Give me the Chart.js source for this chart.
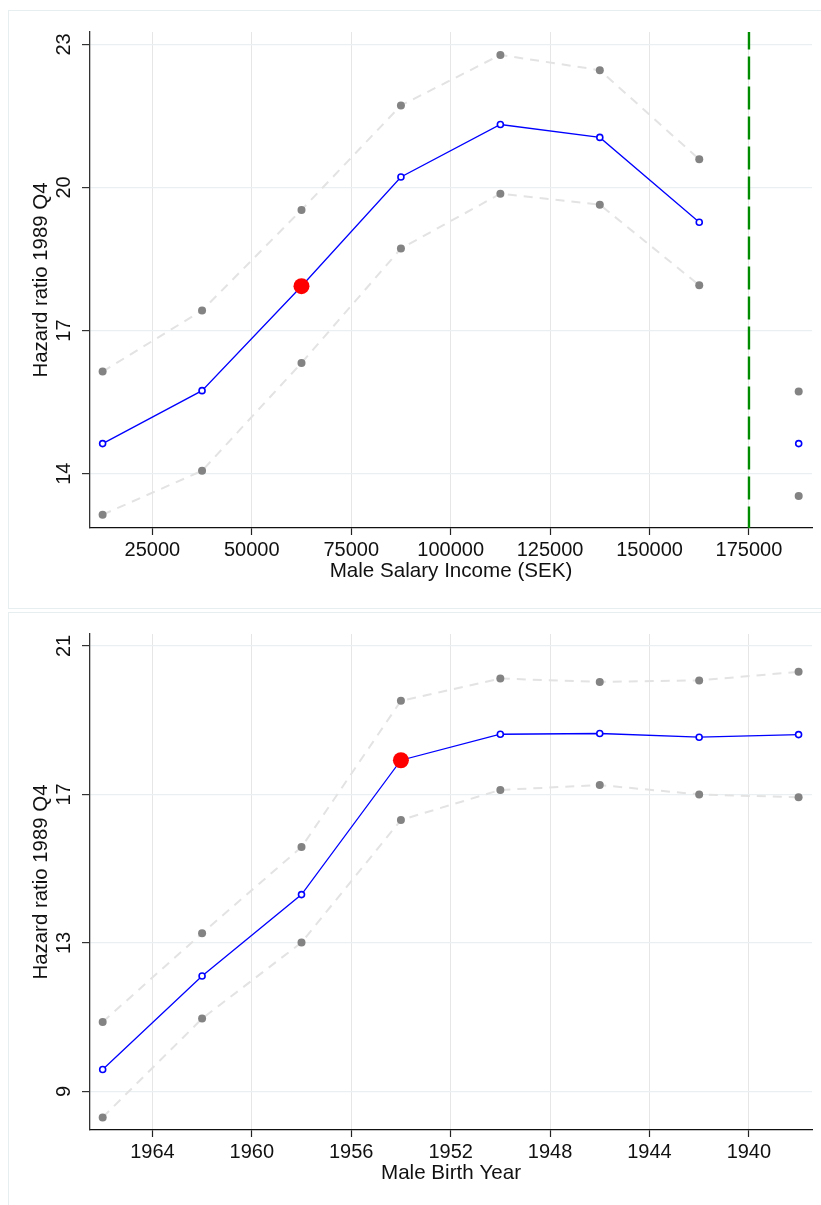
<!DOCTYPE html>
<html>
<head>
<meta charset="utf-8">
<script src="https://cdn.jsdelivr.net/npm/chart.js@4.4.1/dist/chart.umd.min.js"></script>
<style>
  html, body { margin: 0; padding: 0; background: #fff; }
  .panel { position: absolute; left: 8px; width: 813px; height: 597px; border: 1px solid #e6eef0; }
  #p1 { top: 10px; }
  #p2 { top: 612px; }
  canvas { display: block; }
</style>
</head>
<body>
<div class="panel" id="p1"><canvas id="incomeChart" width="813" height="597"></canvas></div>
<div class="panel" id="p2"><canvas id="birthChart" width="813" height="597"></canvas></div>
<script>
// Panel 1: income bins
const incomeBins = [12500, 37500, 62500, 87500, 112500, 137500, 162500];
const incomeHR = [14.63, 15.74, 17.93, 20.22, 21.32, 21.05, 19.27];
const incomeUpper = [16.14, 17.42, 19.53, 21.72, 22.78, 22.46, 20.59];
const incomeLower = [13.14, 14.06, 16.32, 18.72, 19.87, 19.64, 17.95];
const topBinX = [187500];
const topBinHR = [14.63];
const topBinUpper = [15.72];
const topBinLower = [13.53];
const incomeRef = 62500;
const incomeCutoff = 175000;
const incomeTicks = [25000, 50000, 75000, 100000, 125000, 150000, 175000];
const incomeRange = [9330, 190845];
const incomeHRTicks = [14, 17, 20, 23];
const incomeHRRange = [12.86, 23.26];

// Panel 2: birth cohorts
const birthYears = [1966, 1962, 1958, 1954, 1950, 1946, 1942, 1938];
const birthHR = [9.59, 12.11, 14.30, 17.92, 18.62, 18.64, 18.54, 18.61];
const birthUpper = [10.87, 13.26, 15.58, 19.52, 20.12, 20.03, 20.07, 20.30];
const birthLower = [8.30, 10.96, 13.01, 16.31, 17.12, 17.25, 17.00, 16.92];
const birthRef = 1954;
const yearTicks = [1964, 1960, 1956, 1952, 1948, 1944, 1940];
const yearRange = [1937.46, 1966.51];
const birthHRTicks = [9, 13, 17, 21];
const birthHRRange = [7.96, 21.32];

Chart.defaults.font.family = "'Liberation Sans', Arial, Helvetica, sans-serif";
Chart.defaults.color = "#111";

const pts = (xs, ys) => xs.map((x, i) => ({ x: x, y: ys[i] }));

function ciSet(data) {
  return {
    type: "line", data: data, borderColor: "#e3e3e3", borderWidth: 2, borderDash: [9, 7],
    pointRadius: 4, pointBackgroundColor: "#838383", pointBorderWidth: 0, order: 3
  };
}
function hrSet(data, line) {
  return {
    type: "line", data: data, showLine: line, borderColor: "#0000ff", borderWidth: 1.3,
    pointRadius: 3, pointBackgroundColor: "#ffffff", pointBorderColor: "#0000ff",
    pointBorderWidth: 1.6, order: 2
  };
}

function drawPanel(id, o) {
  const datasets = [
    ciSet(pts(o.x, o.upper)),
    ciSet(pts(o.x, o.lower)),
    hrSet(pts(o.x, o.hr), true),
    {
      type: "line", data: [{ x: o.ref, y: o.hr[o.x.indexOf(o.ref)] }], showLine: false,
      pointRadius: 8, pointBackgroundColor: "#ff0000", pointBorderWidth: 0, order: 0
    }
  ];
  (o.extra || []).forEach(d => datasets.push(d));

  new Chart(document.getElementById(id), {
    type: "line",
    data: { datasets: datasets },
    options: {
      responsive: false,
      animation: false,
      devicePixelRatio: 1,
      layout: { padding: { top: 21, right: 10, left: 0, bottom: 0 } },
      plugins: { legend: { display: false }, tooltip: { enabled: false } },
      scales: {
        x: {
          type: "linear", min: o.xRange[0], max: o.xRange[1], reverse: !!o.reverse,
          afterBuildTicks: s => { s.ticks = o.xTicks.map(v => ({ value: v })); },
          afterFit: s => { s.height = 80; },
          grid: { color: "#e6e6e6", lineWidth: 1, tickLength: 7, tickColor: "#222", tickWidth: 1.2 },
          border: { color: "#111", width: 1.3 },
          ticks: { color: "#111", font: { size: 20 }, padding: 3, maxRotation: 0, autoSkip: false, callback: v => String(v) },
          title: { display: true, text: o.xTitle, color: "#111", font: { size: 20.6, lineHeight: 1.2 }, padding: { top: 0, bottom: 24 } }
        },
        y: {
          type: "linear", min: o.yRange[0], max: o.yRange[1],
          afterBuildTicks: s => { s.ticks = o.yTicks.map(v => ({ value: v })); },
          afterFit: s => { s.width = 81; },
          grid: { color: "#eaf0f2", lineWidth: 1.2, tickLength: 8, tickColor: "#333", tickWidth: 1.2 },
          border: { color: "#333", width: 1.3 },
          ticks: { color: "#111", font: { size: 20 }, padding: 6, minRotation: 90, maxRotation: 90, crossAlign: "center", autoSkip: false, callback: v => String(v) },
          title: { display: true, text: "Hazard ratio 1989 Q4", color: "#111", font: { size: 20.4, lineHeight: 1.2 }, padding: { top: 20.5, bottom: 0 } }
        }
      }
    }
  });
}

drawPanel("incomeChart", {
  x: incomeBins, hr: incomeHR, upper: incomeUpper, lower: incomeLower, ref: incomeRef,
  xTicks: incomeTicks, xRange: incomeRange, yTicks: incomeHRTicks, yRange: incomeHRRange,
  xTitle: "Male Salary Income (SEK)",
  extra: [
    { ...ciSet(pts(topBinX, topBinUpper)), showLine: false },
    { ...ciSet(pts(topBinX, topBinLower)), showLine: false },
    hrSet(pts(topBinX, topBinHR), false),
    {
      type: "line", data: [{ x: incomeCutoff, y: incomeHRRange[1] }, { x: incomeCutoff, y: incomeHRRange[0] }],
      borderColor: "#008c00", borderWidth: 2.4, borderDash: [23, 7], borderDashOffset: 5.5, pointRadius: 0, order: 4
    }
  ]
});

drawPanel("birthChart", {
  x: birthYears, hr: birthHR, upper: birthUpper, lower: birthLower, ref: birthRef,
  xTicks: yearTicks, xRange: yearRange, reverse: true, yTicks: birthHRTicks, yRange: birthHRRange,
  xTitle: "Male Birth Year"
});
</script>
</body>
</html>
